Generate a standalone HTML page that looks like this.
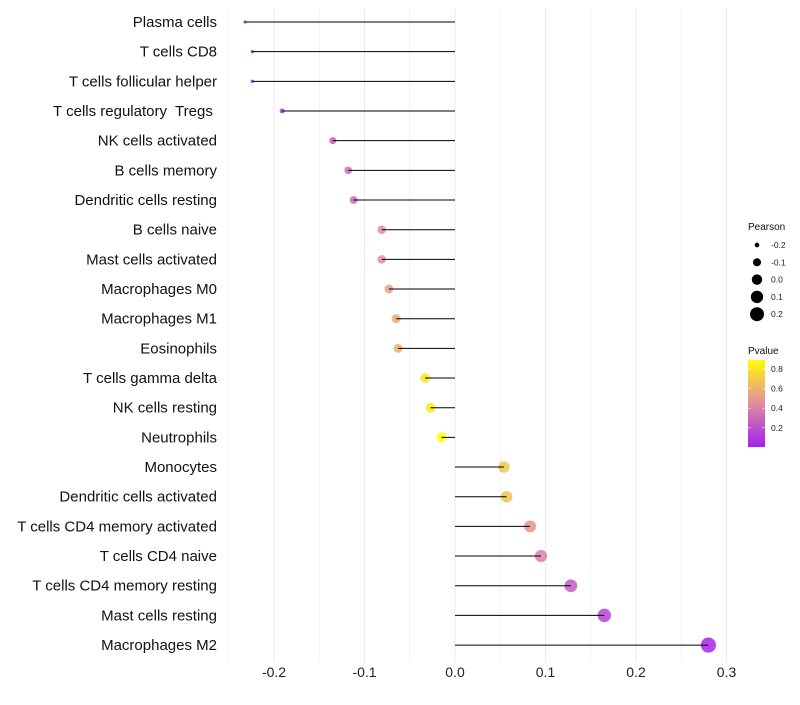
<!DOCTYPE html>
<html><head><meta charset="utf-8"><style>
body{margin:0;background:#fff;font-family:"Liberation Sans",sans-serif}
svg text{font-family:"Liberation Sans",sans-serif;white-space:pre}
</style></head><body>
<svg id="chart" width="800" height="700"></svg>
<script>
const categories=["Plasma cells","T cells CD8","T cells follicular helper","T cells regulatory  Tregs ","NK cells activated","B cells memory","Dendritic cells resting","B cells naive","Mast cells activated","Macrophages M0","Macrophages M1","Eosinophils","T cells gamma delta","NK cells resting","Neutrophils","Monocytes","Dendritic cells activated","T cells CD4 memory activated","T cells CD4 naive","T cells CD4 memory resting","Mast cells resting","Macrophages M2"];
const pearson=[-0.232,-0.224,-0.224,-0.191,-0.135,-0.118,-0.112,-0.081,-0.081,-0.073,-0.065,-0.063,-0.033,-0.027,-0.015,0.054,0.057,0.083,0.095,0.128,0.165,0.28];
const pvalue=[0.04,0.05,0.05,0.1,0.25,0.3,0.3,0.46,0.46,0.52,0.57,0.58,0.8,0.82,0.9,0.68,0.66,0.48,0.4,0.25,0.15,0.03];
const xTicks=[-0.2,-0.1,0.0,0.1,0.2,0.3];
const xTickLabels=["-0.2","-0.1","0.0","0.1","0.2","0.3"];
const sizeLegend=[-0.2,-0.1,0.0,0.1,0.2];
const pLegend=[0.8,0.6,0.4,0.2];

const NS="http://www.w3.org/2000/svg";
const svg=document.getElementById('chart');
function mk(t,a,p){const e=document.createElementNS(NS,t);for(const k in a)e.setAttribute(k,a[k]);(p||svg).appendChild(e);return e;}
const x=v=>455+v*905;
const y=i=>22+i*29.67;
const r=v=>Math.sqrt(Math.max(2.5,27.2+109*v));
function lerp(a,b,t){return a.map((c,i)=>Math.round(c+(b[i]-c)*t));}
function col(p){const t=Math.max(0,Math.min(1,p/0.9));const s=[[160,32,240],[225,140,160],[255,255,0]];
 const c=t<0.5?lerp(s[0],s[1],t*2):lerp(s[1],s[2],(t-0.5)*2);return `rgb(${c})`;}

for(let k=-5;k<=6;k++){
 const v=k*0.05;
 const g=mk('line',{x1:x(v),x2:x(v),y1:8,y2:662,stroke:'#ebebeb','stroke-width':k%2===0?1:0.6});
 
 
}
xTicks.forEach((v,i)=>{
 const t=mk('text',{x:x(v),y:677,'text-anchor':'middle','font-size':14,fill:'#222'});
 t.textContent=xTickLabels[i];
 
 
});
categories.forEach((c,i)=>{
 const t=mk('text',{x:217,y:y(i)+5,'text-anchor':'end','font-size':15,fill:'#111'});
 t.textContent=c;
 
 
 const d=mk('circle',{cx:x(pearson[i]),cy:y(i),r:r(pearson[i]),fill:col(pvalue[i]),'fill-opacity':0.85});
 
 
 const l=mk('line',{x1:x(0),x2:x(pearson[i]),y1:y(i),y2:y(i),stroke:'#000','stroke-width':1});
 
 
});
let lt=mk('text',{x:748,y:230,'font-size':10,fill:'#111'});lt.textContent='Pearson';


sizeLegend.forEach((v,i)=>{
 const cy=245+i*17.3;
 const c=mk('circle',{cx:757,cy:cy,r:r(v),fill:'#000'});
 
 
 const t=mk('text',{x:771,y:cy+3,'font-size':8.5,fill:'#222'});t.textContent=v.toFixed(1);
 
 
});
let pt=mk('text',{x:748,y:354,'font-size':10,fill:'#111'});pt.textContent='Pvalue';


const defs=mk('defs',{});
const lg=mk('linearGradient',{id:'pg',x1:0,y1:1,x2:0,y2:0},defs);
[[0,0.005],[0.25,0.23],[0.5,0.45],[0.75,0.67],[1,0.89]].forEach(([o,p])=>mk('stop',{offset:o,'stop-color':col(p)},lg));
const bar=mk('rect',{x:748,y:360,width:17,height:87,fill:'url(#pg)'});


pLegend.forEach(v=>{
 const yy=447-(v-0.005)/0.885*87;
 mk('line',{x1:748,x2:751,y1:yy,y2:yy,stroke:'#fff','stroke-width':0.6});
 mk('line',{x1:762,x2:765,y1:yy,y2:yy,stroke:'#fff','stroke-width':0.6});
 const t=mk('text',{x:771,y:yy+3,'font-size':8.5,fill:'#222'});t.textContent=v.toFixed(1);
 
 
});
</script>
</body></html>
